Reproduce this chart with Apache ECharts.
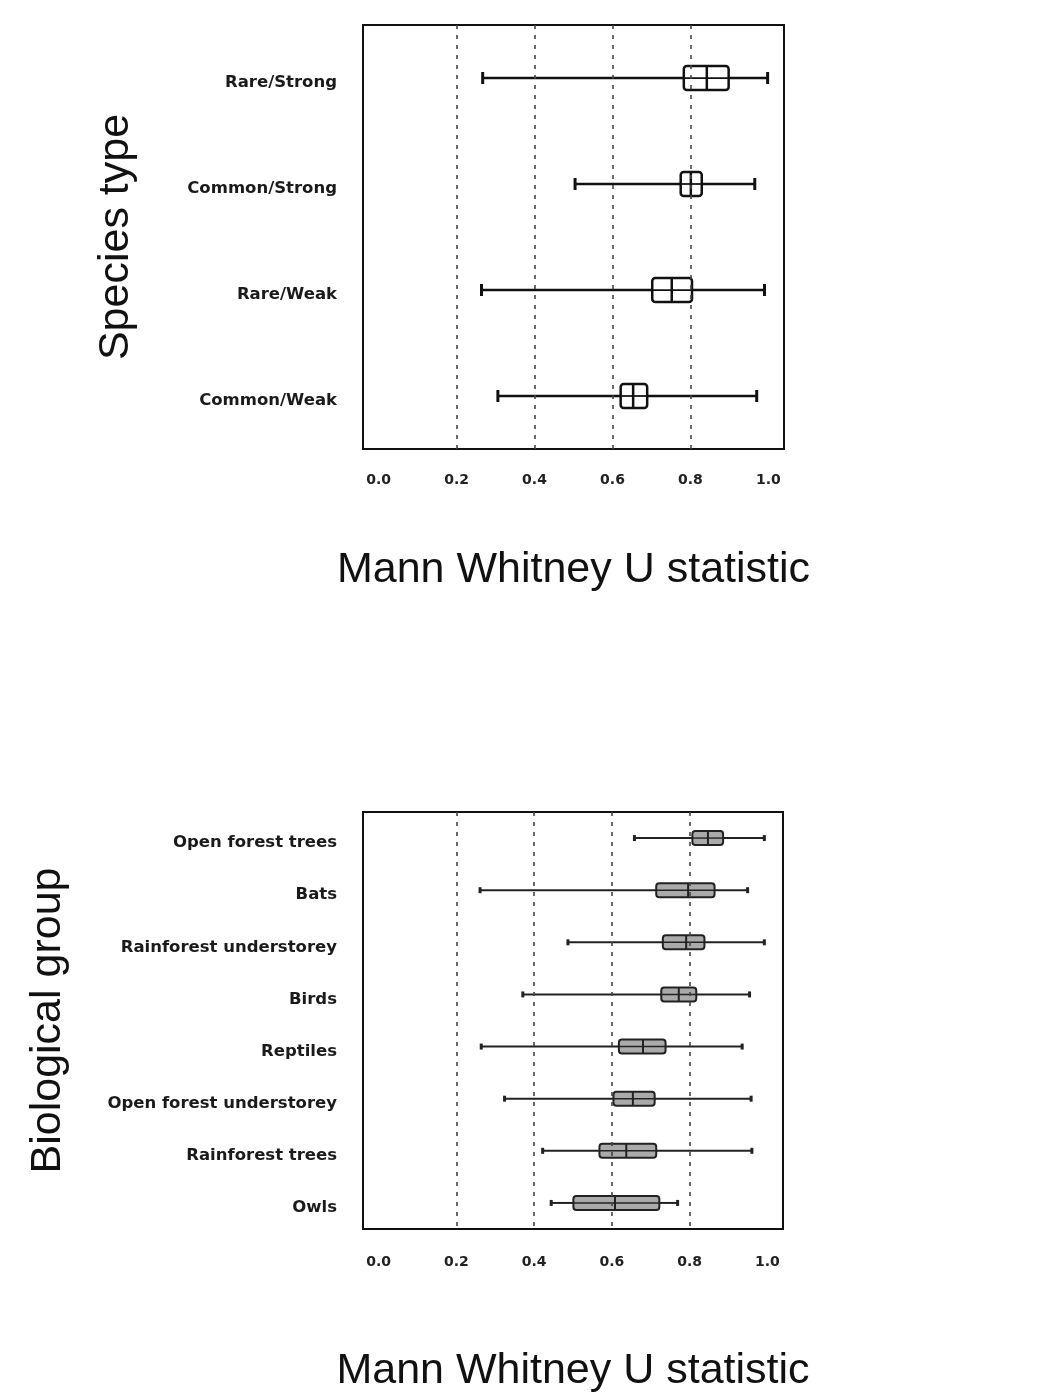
<!DOCTYPE html>
<html>
<head>
<meta charset="utf-8">
<script src="https://cdn.jsdelivr.net/npm/echarts@6/dist/echarts.min.js"></script>
<style>
  html, body { margin: 0; padding: 0; background: #fff; }
  #chart { width: 1054px; height: 1394px; }
</style>
</head>
<body>
<div id="chart"></div>
<script>
// ---- Data: top panel (Species type) ----
const speciesTypes = ['Rare/Strong', 'Common/Strong', 'Rare/Weak', 'Common/Weak'];
const speciesMin = [0.267, 0.504, 0.264, 0.306];
const speciesQ1  = [0.783, 0.775, 0.702, 0.621];
const speciesMed = [0.842, 0.801, 0.752, 0.653];
const speciesQ3  = [0.898, 0.829, 0.804, 0.689];
const speciesMax = [0.998, 0.965, 0.990, 0.970];

// ---- Data: bottom panel (Biological group) ----
const bioGroups = ['Open forest trees', 'Bats', 'Rainforest understorey', 'Birds', 'Reptiles',
                   'Open forest understorey', 'Rainforest trees', 'Owls'];
const bioMin = [0.658, 0.261, 0.487, 0.371, 0.264, 0.324, 0.422, 0.444];
const bioQ1  = [0.807, 0.714, 0.731, 0.727, 0.618, 0.604, 0.568, 0.501];
const bioMed = [0.847, 0.796, 0.791, 0.772, 0.680, 0.654, 0.637, 0.608];
const bioQ3  = [0.886, 0.864, 0.838, 0.817, 0.738, 0.710, 0.714, 0.722];
const bioMax = [0.992, 0.949, 0.992, 0.954, 0.935, 0.958, 0.960, 0.769];

// ---- Axis ticks / reference lines ----
const tickValues = [0.0, 0.2, 0.4, 0.6, 0.8, 1.0];
const refLines = [0.2, 0.4, 0.6, 0.8];
const xAxisTitle = 'Mann Whitney U statistic';

function rows(mins, q1s, meds, q3s, maxs) {
  return mins.map((m, i) => [i, m, q1s[i], meds[i], q3s[i], maxs[i]]);
}

function makeRender(boxH, capH, capW, fill, stroke, lw) {
  return function (params, api) {
    const y = api.value(0);
    const pMin = api.coord([api.value(1), y]);
    const pQ1 = api.coord([api.value(2), y]);
    const pMed = api.coord([api.value(3), y]);
    const pQ3 = api.coord([api.value(4), y]);
    const pMax = api.coord([api.value(5), y]);
    const cy = pMed[1];
    return {
      type: 'group',
      children: [
        { type: 'line', shape: { x1: pMin[0], y1: cy, x2: pQ1[0], y2: cy },
          style: { stroke: stroke, lineWidth: lw } },
        { type: 'line', shape: { x1: pQ3[0], y1: cy, x2: pMax[0], y2: cy },
          style: { stroke: stroke, lineWidth: lw } },
        { type: 'rect', shape: { x: pQ1[0], y: cy - boxH / 2, width: pQ3[0] - pQ1[0], height: boxH, r: 3 },
          style: { fill: fill, stroke: stroke, lineWidth: lw } },
        { type: 'line', shape: { x1: pQ1[0], y1: cy, x2: pQ3[0], y2: cy },
          style: { stroke: stroke, lineWidth: lw * 0.7 } },
        { type: 'line', shape: { x1: pMed[0], y1: cy - boxH / 2, x2: pMed[0], y2: cy + boxH / 2 },
          style: { stroke: stroke, lineWidth: lw } },
        { type: 'line', shape: { x1: pMin[0], y1: cy - capH / 2, x2: pMin[0], y2: cy + capH / 2 },
          style: { stroke: stroke, lineWidth: capW } },
        { type: 'line', shape: { x1: pMax[0], y1: cy - capH / 2, x2: pMax[0], y2: cy + capH / 2 },
          style: { stroke: stroke, lineWidth: capW } }
      ]
    };
  };
}

const fontFam = 'DejaVu Sans';
const titleFam = '"Liberation Sans", Arial, sans-serif';

function xAxisCfg(gridIndex, nameGap, labelMargin) {
  return {
    gridIndex: gridIndex,
    type: 'value',
    min: -0.04,
    max: 1.04,
    axisLine: { show: false },
    axisTick: { show: false },
    splitLine: { show: false },
    axisLabel: {
      customValues: tickValues,
      formatter: v => v.toFixed(1),
      margin: labelMargin,
      fontFamily: fontFam,
      fontSize: 14,
      fontWeight: 'bold',
      color: '#222'
    },
    name: xAxisTitle,
    nameLocation: 'middle',
    nameGap: nameGap,
    nameTextStyle: { fontFamily: titleFam, fontSize: 43, color: '#111' }
  };
}

function yAxisCfg(gridIndex, cats, name, nameGap) {
  return {
    gridIndex: gridIndex,
    type: 'category',
    data: cats,
    inverse: true,
    axisLine: { show: false },
    axisTick: { show: false },
    splitLine: { show: false },
    axisLabel: {
      margin: 26,
      formatter: v => '{c|' + v + '}',
      rich: {
        c: { fontFamily: fontFam, fontSize: 16.5, fontWeight: 'bold', color: '#1a1a1a',
             padding: [10, 0, 0, 0] }
      }
    },
    name: name,
    nameLocation: 'middle',
    nameGap: nameGap,
    nameRotate: 90,
    nameTextStyle: { fontFamily: titleFam, fontSize: 43, color: '#111' }
  };
}

function refMarkLine() {
  return {
    silent: true,
    symbol: 'none',
    label: { show: false },
    lineStyle: { type: [4, 6], color: '#444', width: 1.6 },
    data: refLines.map(v => ({ xAxis: v }))
  };
}

const chart = echarts.init(document.getElementById('chart'));
chart.setOption({
  animation: false,
  backgroundColor: '#fff',
  grid: [
    { left: 363, top: 25, width: 421, height: 424, show: true, borderColor: '#111', borderWidth: 2, backgroundColor: 'transparent' },
    { left: 363, top: 812, width: 420, height: 418, show: true, borderColor: '#111', borderWidth: 2, backgroundColor: 'transparent' }
  ],
  xAxis: [xAxisCfg(0, 100, 24), xAxisCfg(1, 121, 26)],
  yAxis: [yAxisCfg(0, speciesTypes, 'Species type', 225), yAxisCfg(1, bioGroups, 'Biological group', 293)],
  series: [
    {
      type: 'custom',
      xAxisIndex: 0, yAxisIndex: 0,
      renderItem: makeRender(24, 12, 3, '#fff', '#111', 2.5),
      encode: { x: [1, 2, 3, 4, 5], y: 0 },
      data: rows(speciesMin, speciesQ1, speciesMed, speciesQ3, speciesMax),
      markLine: refMarkLine(),
      z: 3
    },
    {
      type: 'custom',
      xAxisIndex: 1, yAxisIndex: 1,
      renderItem: makeRender(14, 6, 3, '#aaa', '#222', 2),
      encode: { x: [1, 2, 3, 4, 5], y: 0 },
      data: rows(bioMin, bioQ1, bioMed, bioQ3, bioMax),
      markLine: refMarkLine(),
      z: 3
    }
  ]
});
</script>
</body>
</html>
